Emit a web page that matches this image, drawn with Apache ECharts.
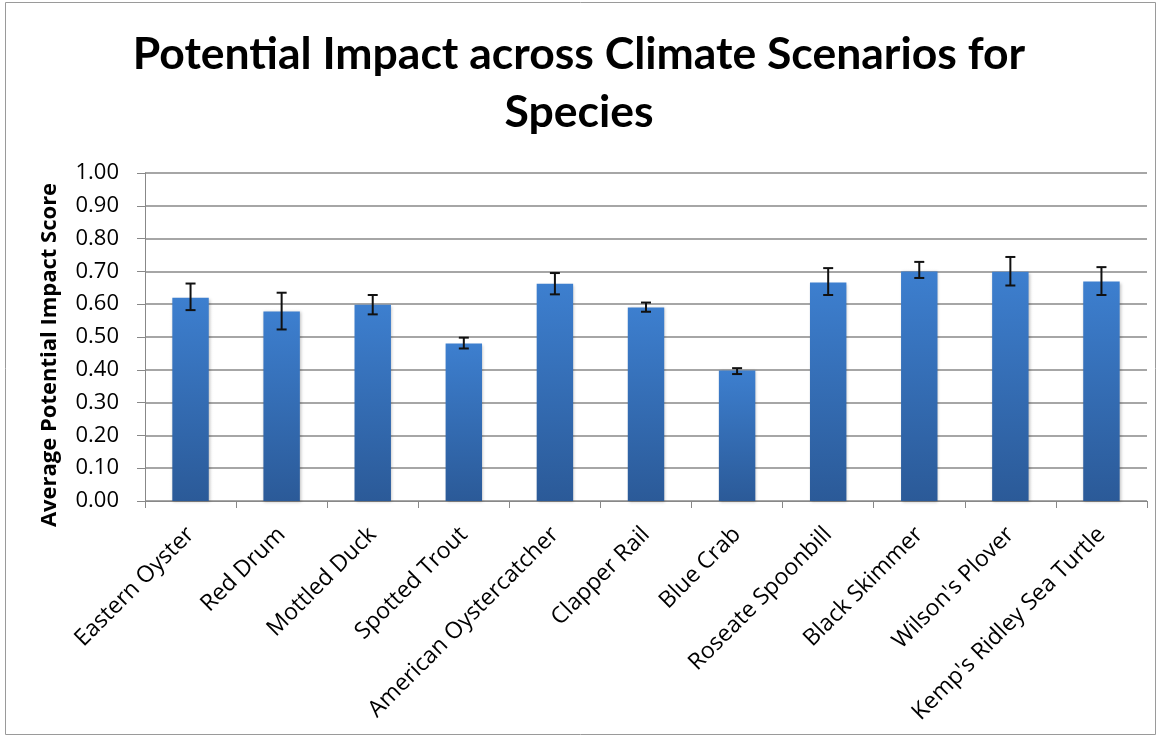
<!DOCTYPE html>
<html>
<head>
<meta charset="utf-8">
<script src="https://cdn.jsdelivr.net/npm/echarts@6/dist/echarts.min.js"></script>
<style>html,body{margin:0;padding:0;background:#fff}#c{width:1158px;height:738px}</style>
</head>
<body>
<div id="c"></div>
<script>
const categories = ["Eastern Oyster","Red Drum","Mottled Duck","Spotted Trout","American Oystercatcher","Clapper Rail","Blue Crab","Roseate Spoonbill","Black Skimmer","Wilson's Plover","Kemp's Ridley Sea Turtle"];
const values = [0.62, 0.578, 0.598, 0.48, 0.662, 0.59, 0.398, 0.666, 0.70, 0.699, 0.669];
const errLow = [0.582, 0.523, 0.569, 0.465, 0.630, 0.577, 0.387, 0.628, 0.680, 0.657, 0.628];
const errHigh = [0.663, 0.635, 0.628, 0.498, 0.695, 0.605, 0.405, 0.710, 0.729, 0.744, 0.713];
const yTicks = [0, 0.1, 0.2, 0.3, 0.4, 0.5, 0.6, 0.7, 0.8, 0.9, 1.0];
const yAxisTitle = 'Average Potential Impact Score';

const chart = echarts.init(document.getElementById('c'));
const font = 'Open Sans, Liberation Sans, sans-serif';
chart.setOption({
  animation: false,
  backgroundColor: '#fff',
  title: {
    text: 'Potential Impact across Climate Scenarios for\nSpecies',
    left: 'center',
    top: 21,
    textStyle: {fontFamily: 'Lato, Open Sans, sans-serif', fontWeight: 'bold', fontSize: 44.5, lineHeight: 58, color: '#000'}
  },
  graphic: [{
    type: 'rect', shape: {x: 5.5, y: 2.5, width: 1150, height: 732},
    style: {fill: 'none', stroke: '#9a9a9a', lineWidth: 1}, silent: true
  }, {
    type: 'text', x: 50, y: 355, rotation: Math.PI / 2,
    style: {text: yAxisTitle, fontFamily: font, fontWeight: 'bold', fontSize: 22, fill: '#000',
      textAlign: 'center', textVerticalAlign: 'middle'},
    silent: true
  }],
  grid: {left: 145, right: 11, top: 173, bottom: 237},
  xAxis: {
    type: 'category',
    data: categories,
    axisLine: {lineStyle: {color: '#888', width: 1}},
    axisTick: {show: true, alignWithLabel: false, length: 7, lineStyle: {color: '#888'}},
    axisLabel: {rotate: 45, interval: 0, fontSize: 23, color: '#000', fontFamily: font, margin: 30}
  },
  yAxis: {
    type: 'value',
    min: 0, max: 1, interval: 0.1,
    axisLine: {show: true, lineStyle: {color: '#888'}},
    axisTick: {show: true, length: 8, lineStyle: {color: '#888'}},
    axisLabel: {fontSize: 22, color: '#000', fontFamily: font, margin: 26,
      formatter: v => yTicks.some(t => Math.abs(t - v) < 1e-9) ? v.toFixed(2) : ''},
    splitLine: {lineStyle: {color: '#a6a6a6', width: 2}}
  },
  series: [{
    type: 'bar',
    data: values,
    barWidth: '40%',
    itemStyle: {
      color: new echarts.graphic.LinearGradient(0, 0, 0, 1, [
        {offset: 0, color: '#3d7fcf'},
        {offset: 1, color: '#2b5a98'}
      ]),
      shadowColor: 'rgba(0,0,0,0.25)', shadowBlur: 3, shadowOffsetX: 1, shadowOffsetY: 1
    }
  }, {
    type: 'custom',
    data: categories.map((c, i) => [i, errLow[i], errHigh[i]]),
    renderItem: function (params, api) {
      const x = api.coord([api.value(0), 0])[0];
      const lo = api.coord([api.value(0), api.value(1)])[1];
      const hi = api.coord([api.value(0), api.value(2)])[1];
      const w = 5;
      const st = {stroke: '#111', lineWidth: 2};
      return {type: 'group', children: [
        {type: 'line', shape: {x1: x, y1: hi, x2: x, y2: lo}, style: st},
        {type: 'line', shape: {x1: x - w, y1: hi, x2: x + w, y2: hi}, style: st},
        {type: 'line', shape: {x1: x - w, y1: lo, x2: x + w, y2: lo}, style: st}
      ]};
    },
    z: 10
  }]
});
</script>
</body>
</html>
